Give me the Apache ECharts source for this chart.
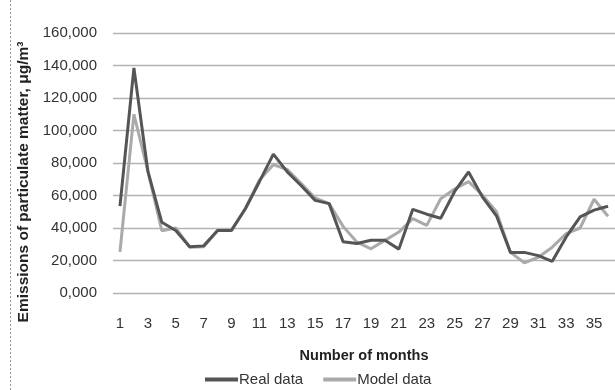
<!DOCTYPE html>
<html>
<head>
<meta charset="utf-8">
<script src="https://cdn.jsdelivr.net/npm/echarts@6/dist/echarts.min.js"></script>
<style>
  html, body { margin: 0; padding: 0; background: #fff; }
  #chart { width: 615px; height: 390px; }
</style>
</head>
<body>
<div id="chart"></div>
<script>
// months 1..36
const months = ['1','2','3','4','5','6','7','8','9','10','11','12','13','14','15','16','17','18',
  '19','20','21','22','23','24','25','26','27','28','29','30','31','32','33','34','35','36']

const realData = [53500, 138500, 75000, 43500, 38500, 28500, 29000, 38500, 38500, 52000, 68500, 85500,
  74500, 66000, 57000, 55000, 31500, 30500, 32500, 32500, 27000, 51500, 48500, 46000,
  62500, 74500, 59000, 47500, 25000, 25000, 23000, 19500, 34500, 46800, 51000, 53400]

const modelData = [25300, 110000, 75000, 38300, 40000, 28200, 28400, 38500, 39000, 52000, 69600, 79000,
  76000, 67400, 58500, 55000, 41000, 31300, 27200, 32400, 37500, 45800, 41600, 58000,
  64000, 68500, 60200, 50000, 25000, 18600, 22000, 28200, 36500, 40000, 57700, 47200]

const yMax = 160000
const yStep = 20000

const font = 'Liberation Sans'
const realColor = '#555555'
const modelColor = '#aaaaaa'

const chart = echarts.init(document.getElementById('chart'))

const option = {
    animation: false,
    textStyle: { fontFamily: font },
    grid: { left: 113, right: 0, top: 33, bottom: 97 },
    legend: {
        left: 200,
        top: 367,
        icon: 'rect',
        itemWidth: 33,
        itemHeight: 4,
        itemGap: 20,
        textStyle: { fontSize: 15, color: '#333', padding: [0, 0, 0, -4] },
        data: ['Real data', 'Model data']
    },
    xAxis: {
        type: 'category',
        data: months,
        boundaryGap: true,
        name: 'Number of months',
        nameLocation: 'middle',
        nameGap: 55,
        nameTextStyle: { fontSize: 14.5, fontWeight: 'bold', color: '#222' },
        axisLine: { show: false },
        axisTick: { show: false },
        axisLabel: { interval: 1, fontSize: 15, color: '#333', margin: 23 }
    },
    yAxis: {
        type: 'value',
        min: 0,
        max: yMax,
        interval: yStep,
        name: 'Emissions of particulate matter, μg/m³',
        nameLocation: 'middle',
        nameGap: 75,
        nameRotate: 90,
        nameTextStyle: { fontSize: 15.5, fontWeight: 'bold', color: '#222', padding: [0, 38, 0, 0] },
        axisLine: { show: false },
        axisTick: { show: false },
        axisLabel: {
            fontSize: 15,
            color: '#333',
            margin: 16,
            formatter: v => Math.round(v / 1000) + ',000'
        },
        splitLine: { lineStyle: { color: '#b4b4b4', width: 1.3 } }
    },
    graphic: [
        {
            type: 'line',
            shape: { x1: 10.5, y1: 0, x2: 10.5, y2: 390 },
            style: { stroke: '#999', lineWidth: 1, lineDash: [2, 2] }
        }
    ],
    series: [
        {
            name: 'Real data',
            type: 'line',
            data: realData,
            symbol: 'none',
            lineStyle: { color: realColor, width: 3 },
            itemStyle: { color: realColor },
            z: 3
        },
        {
            name: 'Model data',
            type: 'line',
            data: modelData,
            symbol: 'none',
            lineStyle: { color: modelColor, width: 3 },
            itemStyle: { color: modelColor },
            z: 2
        }
    ]
}

chart.setOption(option)
</script>
</body>
</html>
